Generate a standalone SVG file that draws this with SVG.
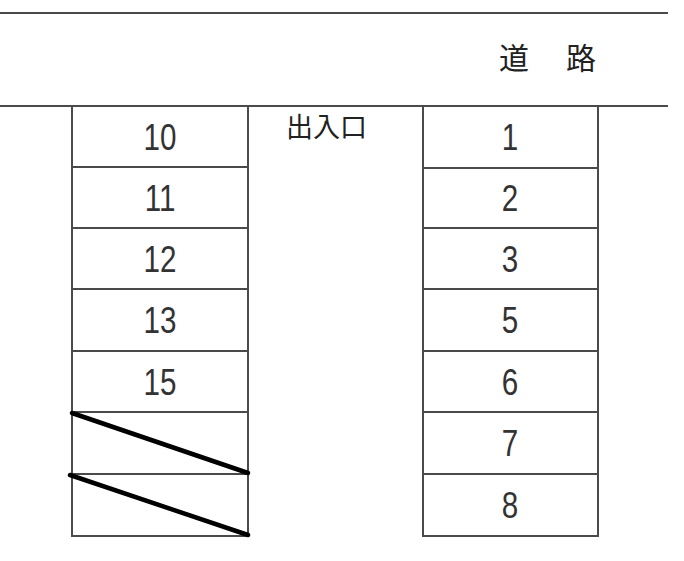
<svg xmlns="http://www.w3.org/2000/svg" width="684" height="561" viewBox="0 0 684 561">
<style>
.ln{stroke:#4a4a4a;stroke-width:2;fill:none}
.cell{fill:#fff;stroke:#4a4a4a;stroke-width:2}
.num{font-family:"Liberation Sans",Arial,sans-serif;font-size:37px;fill:#333;text-anchor:middle}
.jp{font-family:"Noto Sans CJK JP","Noto Sans CJK SC",sans-serif;fill:#222}
.slash{stroke:#000;stroke-width:4.5;stroke-linecap:round}
</style>
<rect width="684" height="561" fill="#fff"/>
<g id="road">
<line class="ln" x1="0" y1="13" x2="668" y2="13"/>
<line class="ln" x1="0" y1="106" x2="668" y2="106"/>
<text class="jp" x="499" y="69" font-size="30">道</text>
<text class="jp" x="566" y="69" font-size="30">路</text>
</g>
<g id="entrance">
<text class="jp" x="286" y="137" font-size="27">出入口</text>
</g>
<g id="left-column">
<g id="L10"><rect class="cell" x="72" y="106" width="176" height="61"/><text class="num" transform="translate(160,150) scale(0.8,1)">10</text></g>
<g id="L11"><rect class="cell" x="72" y="167" width="176" height="61"/><text class="num" transform="translate(160,211) scale(0.8,1)">11</text></g>
<g id="L12"><rect class="cell" x="72" y="228" width="176" height="61"/><text class="num" transform="translate(160,272) scale(0.8,1)">12</text></g>
<g id="L13"><rect class="cell" x="72" y="289" width="176" height="62"/><text class="num" transform="translate(160,333) scale(0.8,1)">13</text></g>
<g id="L15"><rect class="cell" x="72" y="351" width="176" height="61"/><text class="num" transform="translate(160,395) scale(0.8,1)">15</text></g>
<g id="LX1"><rect class="cell" x="72" y="412" width="176" height="62"/></g>
<g id="LX2"><rect class="cell" x="72" y="474" width="176" height="62"/></g>
</g>
<g id="right-column">
<g id="R1"><rect class="cell" x="423" y="106" width="175" height="62"/><text class="num" transform="translate(510,150) scale(0.8,1)">1</text></g>
<g id="R2"><rect class="cell" x="423" y="168" width="175" height="60"/><text class="num" transform="translate(510,211) scale(0.8,1)">2</text></g>
<g id="R3"><rect class="cell" x="423" y="228" width="175" height="61"/><text class="num" transform="translate(510,272) scale(0.8,1)">3</text></g>
<g id="R5"><rect class="cell" x="423" y="289" width="175" height="62"/><text class="num" transform="translate(510,333) scale(0.8,1)">5</text></g>
<g id="R6"><rect class="cell" x="423" y="351" width="175" height="61"/><text class="num" transform="translate(510,395) scale(0.8,1)">6</text></g>
<g id="R7"><rect class="cell" x="423" y="412" width="175" height="62"/><text class="num" transform="translate(510,456) scale(0.8,1)">7</text></g>
<g id="R8"><rect class="cell" x="423" y="474" width="175" height="62"/><text class="num" transform="translate(510,518) scale(0.8,1)">8</text></g>
</g>
<g id="connectors">
<line class="slash" x1="72" y1="413" x2="248" y2="473"/>
<line class="slash" x1="70" y1="475" x2="248" y2="535"/>
</g>
</svg>
